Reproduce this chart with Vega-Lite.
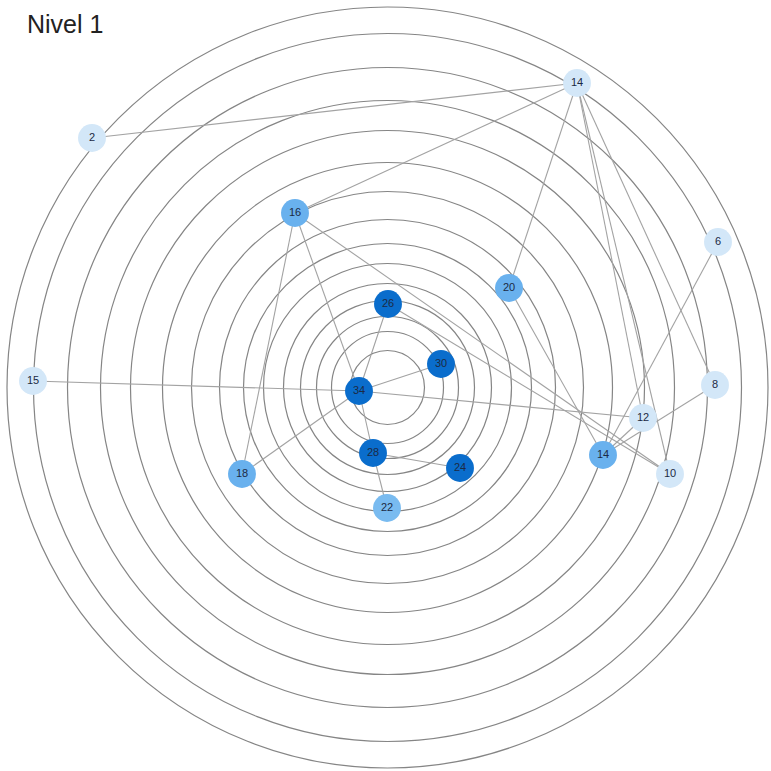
{
  "$schema": "https://vega.github.io/schema/vega-lite/v6.json",
  "width": 771,
  "height": 771,
  "autosize": {"type": "fit", "contains": "padding"},
  "padding": 0,
  "background": "white",
  "view": {"stroke": null},
  "title": {
    "text": "Nivel 1",
    "anchor": "start",
    "frame": "group",
    "orient": "top",
    "offset": -38,
    "dx": 27,
    "font": "Liberation Sans",
    "fontSize": 25,
    "fontWeight": "normal",
    "color": "#222222"
  },
  "datasets": {
    "rings": [
      {"cx": 0, "cy": 0, "r": 37}, {"cx": 0, "cy": 0, "r": 56}, {"cx": 0, "cy": 0, "r": 71}, {"cx": 0, "cy": 0, "r": 87},
      {"cx": 0, "cy": 0, "r": 104}, {"cx": 0, "cy": 0, "r": 124}, {"cx": 0, "cy": 0, "r": 144}, {"cx": 0, "cy": 0, "r": 168},
      {"cx": 0, "cy": 0, "r": 196}, {"cx": 0, "cy": 0, "r": 225}, {"cx": 0, "cy": 0, "r": 257}, {"cx": 0, "cy": 0, "r": 287},
      {"cx": 0, "cy": 0, "r": 320}, {"cx": 0, "cy": 0, "r": 354}, {"cx": 0, "cy": 0, "r": 380.5}
    ],
    "nodes": [
      {"id": "14a", "label": "14", "group": "low", "x": 189.5, "y": 304.5},
      {"id": "2", "label": "2", "group": "low", "x": -295.5, "y": 249.5},
      {"id": "16", "label": "16", "group": "mid", "x": -92.5, "y": 174.5},
      {"id": "6", "label": "6", "group": "low", "x": 330.5, "y": 145.5},
      {"id": "20", "label": "20", "group": "mid", "x": 121.5, "y": 99.5},
      {"id": "26", "label": "26", "group": "high", "x": 0.5, "y": 83.5},
      {"id": "30", "label": "30", "group": "high", "x": 53.5, "y": 23.5},
      {"id": "15", "label": "15", "group": "low", "x": -354.5, "y": 6.5},
      {"id": "34", "label": "34", "group": "high", "x": -28.5, "y": -3.5},
      {"id": "8", "label": "8", "group": "low", "x": 327.5, "y": 2.5},
      {"id": "12", "label": "12", "group": "low", "x": 255.5, "y": -30.5},
      {"id": "14b", "label": "14", "group": "mid", "x": 215.5, "y": -67.5},
      {"id": "10", "label": "10", "group": "low", "x": 282.5, "y": -86.5},
      {"id": "28", "label": "28", "group": "high", "x": -14.5, "y": -65.5},
      {"id": "24", "label": "24", "group": "high", "x": 72.5, "y": -80.5},
      {"id": "18", "label": "18", "group": "mid", "x": -145.5, "y": -86.5},
      {"id": "22", "label": "22", "group": "mid2", "x": -0.5, "y": -120.5}
    ],
    "edges": [
      {"source": "14a", "target": "2"},
      {"source": "14a", "target": "16"},
      {"source": "14a", "target": "20"},
      {"source": "14a", "target": "12"},
      {"source": "14a", "target": "10"},
      {"source": "14a", "target": "8"},
      {"source": "16", "target": "34"},
      {"source": "16", "target": "18"},
      {"source": "16", "target": "10"},
      {"source": "26", "target": "10"},
      {"source": "20", "target": "14b"},
      {"source": "6", "target": "14b"},
      {"source": "8", "target": "14b"},
      {"source": "12", "target": "14b"},
      {"source": "15", "target": "34"},
      {"source": "34", "target": "12"},
      {"source": "34", "target": "26"},
      {"source": "34", "target": "30"},
      {"source": "34", "target": "28"},
      {"source": "34", "target": "18"},
      {"source": "28", "target": "24"},
      {"source": "28", "target": "22"}
    ]
  },
  "encoding": {
    "x": {"type": "quantitative", "scale": {"domain": [-387.5, 383.5], "nice": false, "zero": false}, "axis": null},
    "y": {"type": "quantitative", "scale": {"domain": [-383.5, 387.5], "nice": false, "zero": false}, "axis": null}
  },
  "layer": [
    {
      "data": {"name": "rings"},
      "mark": {"type": "point", "shape": "circle", "filled": false, "stroke": "#858585", "strokeWidth": 1.2, "opacity": 1},
      "encoding": {
        "x": {"field": "cx", "type": "quantitative"},
        "y": {"field": "cy", "type": "quantitative"},
        "size": {"field": "r", "type": "quantitative", "legend": null, "scale": {"type": "pow", "exponent": 2, "domain": [0, 380.5], "range": [0, 579121], "zero": true}}
      }
    },
    {
      "data": {"name": "edges"},
      "transform": [
        {"lookup": "source", "from": {"data": {"name": "nodes"}, "key": "id", "fields": ["x", "y"]}, "as": ["sx", "sy"]},
        {"lookup": "target", "from": {"data": {"name": "nodes"}, "key": "id", "fields": ["x", "y"]}, "as": ["tx", "ty"]}
      ],
      "mark": {"type": "rule", "color": "#a3a3a3", "strokeWidth": 1.1},
      "encoding": {
        "x": {"field": "sx", "type": "quantitative"},
        "y": {"field": "sy", "type": "quantitative"},
        "x2": {"field": "tx"},
        "y2": {"field": "ty"}
      }
    },
    {
      "data": {"name": "nodes"},
      "mark": {"type": "point", "shape": "circle", "filled": true, "opacity": 1, "size": 780},
      "encoding": {
        "x": {"field": "x", "type": "quantitative"},
        "y": {"field": "y", "type": "quantitative"},
        "color": {
          "field": "group", "type": "nominal", "legend": null,
          "scale": {"domain": ["low", "mid", "mid2", "high"], "range": ["#d3e7f8", "#69b1ee", "#79bbf0", "#0a6dcc"]}
        }
      }
    },
    {
      "data": {"name": "nodes"},
      "mark": {"type": "text", "font": "Liberation Sans", "fontSize": 11, "color": "#1c2a44", "align": "center", "baseline": "middle"},
      "encoding": {
        "x": {"field": "x", "type": "quantitative"},
        "y": {"field": "y", "type": "quantitative"},
        "text": {"field": "label", "type": "nominal"}
      }
    }
  ]
}
